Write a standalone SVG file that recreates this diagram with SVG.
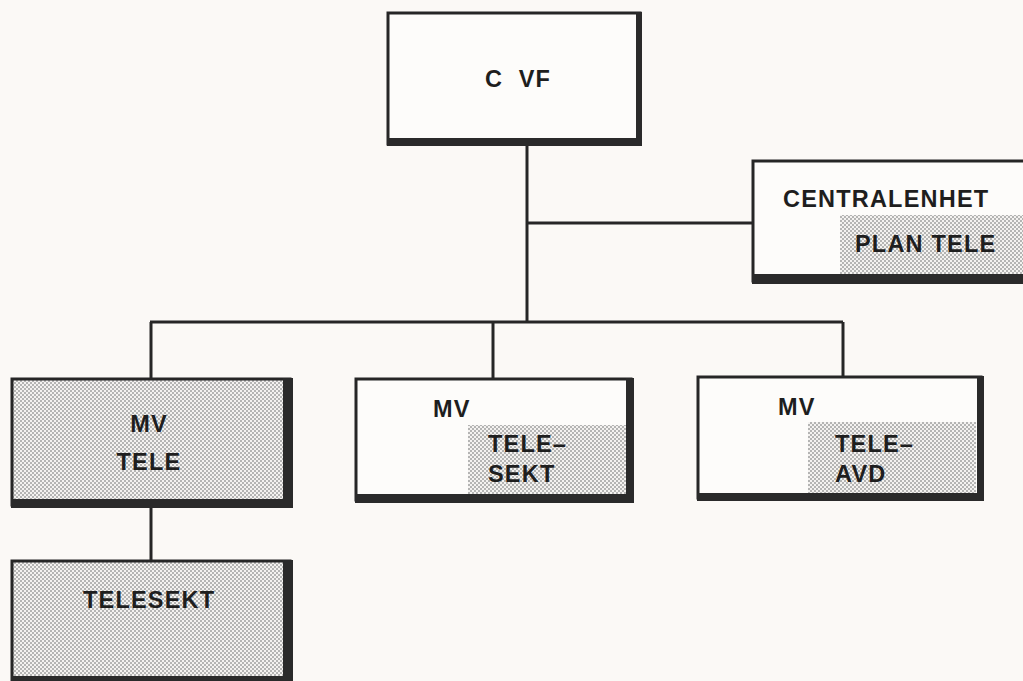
<svg xmlns="http://www.w3.org/2000/svg" width="1023" height="681" viewBox="0 0 1023 681">
<defs>
<pattern id="dots" width="4" height="4" patternUnits="userSpaceOnUse">
<rect width="4" height="4" fill="#f4f2f0"/>
<circle cx="1" cy="1" r="0.95" fill="#9a9a9a"/>
<circle cx="3" cy="3" r="0.95" fill="#9a9a9a"/>
</pattern>
<style>
.box{stroke:#262626;stroke-width:3;}
.white{fill:#fdfcfa;}
.shaded{fill:url(#dots);}
.shadow{fill:#2a2a2a;}
.shade{fill:url(#dots);}
.t{font-family:"Liberation Sans",Arial,sans-serif;font-weight:bold;font-size:23.5px;fill:#1e1e1e;letter-spacing:1.2px;}
.c{stroke:#262626;stroke-width:3;fill:none;}
</style>
</defs>
<rect width="1023" height="681" fill="#fbf9f6"/>
<g id="connectors">
<line class="c" x1="527" y1="145" x2="527" y2="322"/>
<line class="c" x1="527" y1="223" x2="752" y2="223"/>
<line class="c" x1="150" y1="322" x2="843" y2="322"/>
<line class="c" x1="151" y1="322" x2="151" y2="379"/>
<line class="c" x1="493" y1="322" x2="493" y2="379"/>
<line class="c" x1="843" y1="322" x2="843" y2="377"/>
<line class="c" x1="151" y1="507" x2="151" y2="561"/>
</g>
<g id="cvf">
<rect class="box white" x="388" y="13" width="252" height="131"/>
<path class="shadow" d="M387 138 H642 V146 H387 Z M636 12 H642 V146 H636 Z"/>
<text class="t" x="485" y="87" xml:space="preserve">C  VF</text>
</g>
<g id="centralenhet">
<rect class="box white" x="753" y="161" width="280" height="120"/>
<rect class="shade" x="840" y="215" width="193" height="59"/>
<path class="shadow" d="M752 274 H1023 V284 H752 Z"/>
<text class="t" x="783" y="207">CENTRALENHET</text>
<text class="t" x="855" y="252">PLAN TELE</text>
</g>
<g id="mvtele">
<rect class="box shaded" x="12" y="379" width="278" height="126"/>
<path class="shadow" d="M11 499 H293 V508 H11 Z M283 378 H293 V508 H283 Z"/>
<text class="t" x="149" y="432" text-anchor="middle">MV</text>
<text class="t" x="149" y="470" text-anchor="middle">TELE</text>
</g>
<g id="telesekt">
<rect class="box shaded" x="12" y="561" width="278" height="130"/>
<path class="shadow" d="M283 560 H293 V690 H283 Z M11 676 H293 V690 H11 Z"/>
<text class="t" x="83" y="608">TELESEKT</text>
</g>
<g id="mvtelesekt">
<rect class="box white" x="356" y="379" width="275" height="121"/>
<rect class="shade" x="468" y="425" width="158" height="69"/>
<path class="shadow" d="M355 494 H634 V503 H355 Z M626 378 H634 V503 H626 Z"/>
<text class="t" x="433" y="417">MV</text>
<text class="t" x="488" y="452">TELE–</text>
<text class="t" x="488" y="482">SEKT</text>
</g>
<g id="mvteleavd">
<rect class="box white" x="698" y="377" width="283" height="121"/>
<rect class="shade" x="808" y="422" width="168" height="71"/>
<path class="shadow" d="M697 493 H984 V501 H697 Z M977 376 H984 V501 H977 Z"/>
<text class="t" x="778" y="415">MV</text>
<text class="t" x="835" y="452">TELE–</text>
<text class="t" x="835" y="482">AVD</text>
</g>
</svg>
